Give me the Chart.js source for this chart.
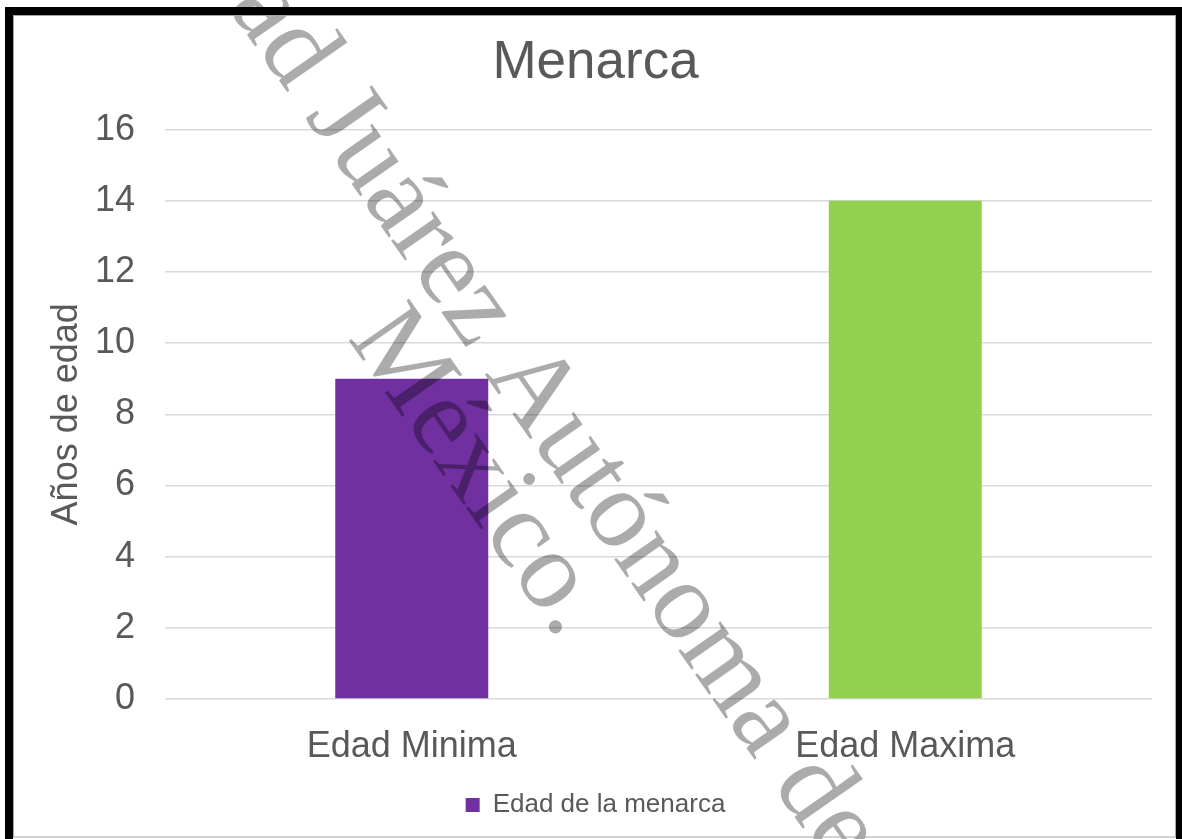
<!DOCTYPE html>
<html lang="es">
<head>
<meta charset="utf-8">
<title>Menarca</title>
<script src="https://cdn.jsdelivr.net/npm/chart.js"></script>
<style>
  body { margin: 0; background: #fff; }
  #wrap { position: relative; width: 1182px; height: 839px; }
</style>
</head>
<body>
<div id="wrap"><canvas id="menarcaChart"></canvas></div>
<script>
const categories = ["Edad Minima", "Edad Maxima"];
const edadValues = [9, 14];
const barColors = ["#7030A0", "#92D050"];
const seriesName = "Edad de la menarca";
const yTicks = [0, 2, 4, 6, 8, 10, 12, 14, 16];
const watermarkLines = ["ad Juárez Autónoma de", "México."];

const textColor = "#595959";

// white background + black frame like the scanned page
const framePlugin = {
  id: "frame",
  beforeDraw(chart) {
    const ctx = chart.ctx;
    ctx.save();
    ctx.fillStyle = "#ffffff";
    ctx.fillRect(0, 0, chart.width, chart.height);
    ctx.restore();
  },
  afterDraw(chart) {
    const ctx = chart.ctx;
    ctx.save();
    // watermark
    ctx.font = '112px "Liberation Serif", "Times New Roman", serif';
    ctx.fillStyle = "rgba(0, 0, 0, 0.33)";
    ctx.textBaseline = "alphabetic";
    ctx.textAlign = "left";
    const capH = 112 * 0.662;
    ctx.translate(347, 113);
    ctx.rotate((55 * Math.PI) / 180);
    const offA = ctx.measureText("ad ").width + ctx.measureText("J").width / 2;
    ctx.fillText(watermarkLines[0], -offA, capH / 2);
    const offM = ctx.measureText("M").width / 2;
    ctx.fillText(watermarkLines[1], 234 - offM, 92 + capH / 2);
    ctx.restore();

    ctx.save();
    ctx.strokeStyle = "#a6a6a6";
    ctx.lineWidth = 1;
    ctx.strokeRect(13.5, 15.5, 1162, 821.5);
    ctx.fillStyle = "#000000";
    ctx.fillRect(5, 7, 8, 832);
    ctx.fillRect(5, 7, 1177, 8);
    ctx.fillRect(1176, 7, 6, 832);
    ctx.restore();
  },
};

document.addEventListener("DOMContentLoaded", () => {
  const canvas = document.getElementById("menarcaChart");
  new Chart(canvas, {
    type: "bar",
    data: {
      labels: categories,
      datasets: [
        {
          label: seriesName,
          data: edadValues,
          backgroundColor: barColors,
          borderWidth: 0,
          barPercentage: 0.31,
          categoryPercentage: 1,
        },
      ],
    },
    options: {
      responsive: true,
      maintainAspectRatio: false,
      animation: false,
      layout: {
        padding: { top: 20, left: 39, right: 30, bottom: 11 },
      },
      plugins: {
        title: {
          display: true,
          text: "Menarca",
          color: textColor,
          font: { family: "Arial, 'Liberation Sans', sans-serif", size: 53, weight: "normal" },
          padding: { top: 12, bottom: 34 },
        },
        legend: {
          display: true,
          position: "bottom",
          labels: {
            color: textColor,
            font: { family: "Arial, 'Liberation Sans', sans-serif", size: 26 },
            boxWidth: 14,
            boxHeight: 14,
            padding: 25,
          },
        },
        tooltip: { enabled: false },
      },
      scales: {
        x: {
          grid: { display: false, drawTicks: false },
          border: { display: false },
          ticks: {
            color: textColor,
            font: { family: "Arial, 'Liberation Sans', sans-serif", size: 36 },
            padding: 26,
          },
          afterFit: (axis) => {
            axis.height = 68;
          },
        },
        y: {
          min: yTicks[0],
          max: yTicks[yTicks.length - 1],
          afterBuildTicks: (axis) => {
            axis.ticks = yTicks.map((v) => ({ value: v }));
          },
          afterFit: (axis) => {
            axis.width = 126;
          },
          grid: { color: "#d9d9d9", lineWidth: 1.5, drawTicks: false },
          border: { display: false },
          ticks: {
            color: textColor,
            font: { family: "Arial, 'Liberation Sans', sans-serif", size: 36 },
            padding: 30,
          },
          title: {
            display: true,
            text: "Años de edad",
            color: textColor,
            font: { family: "Arial, 'Liberation Sans', sans-serif", size: 36 },
            padding: { top: 6, bottom: 6 },
          },
        },
      },
    },
    plugins: [framePlugin],
  });
});
</script>
</body>
</html>
